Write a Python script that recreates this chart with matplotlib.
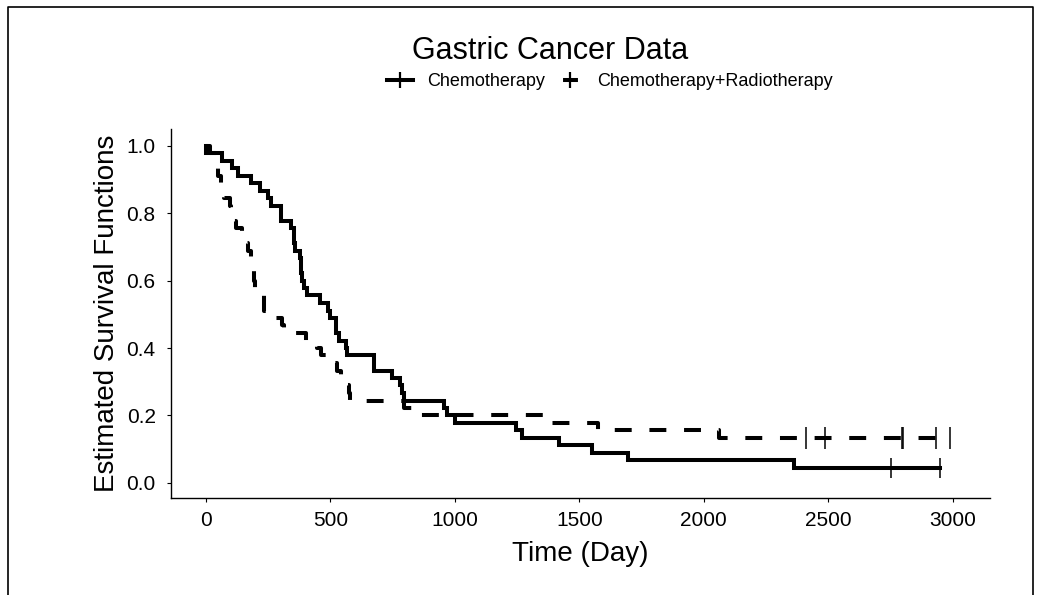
import matplotlib
matplotlib.use('Agg')
import matplotlib.pyplot as plt
from matplotlib.lines import Line2D

plt.rcParams['font.family'] = ['Liberation Sans', 'DejaVu Sans']

# Kaplan-Meier steps (gastric cancer data, n=45 per arm)
chemo_time = [1, 63, 105, 129, 182, 216, 250, 262, 301, 342, 354, 356, 358, 380,
              383, 388, 394, 408, 460, 489, 499, 523, 524, 535, 562, 569, 675,
              676, 748, 778, 786, 797, 955, 968, 1000, 1245, 1271, 1420, 1551,
              1694, 2363]
chemo_surv = [0.978, 0.956, 0.933, 0.911, 0.889, 0.867, 0.844, 0.822, 0.778,
              0.756, 0.733, 0.711, 0.689, 0.667, 0.622, 0.600, 0.578, 0.556,
              0.533, 0.511, 0.489, 0.467, 0.444, 0.422, 0.400, 0.378, 0.356,
              0.333, 0.311, 0.289, 0.267, 0.244, 0.222, 0.200, 0.178, 0.156,
              0.133, 0.111, 0.089, 0.067, 0.044]
chemo_cens = [2754, 2950]

radio_time = [17, 42, 44, 48, 60, 72, 74, 95, 103, 108, 122, 144, 167, 170, 183,
              185, 193, 195, 197, 208, 234, 235, 254, 307, 315, 401, 445, 464,
              484, 528, 542, 567, 577, 580, 795, 855, 1366, 1577, 2060]
radio_surv = [0.978, 0.956, 0.933, 0.911, 0.889, 0.867, 0.844, 0.822, 0.800,
              0.778, 0.756, 0.733, 0.711, 0.689, 0.667, 0.644, 0.622, 0.600,
              0.578, 0.556, 0.533, 0.511, 0.489, 0.467, 0.444, 0.422, 0.400,
              0.378, 0.356, 0.333, 0.311, 0.289, 0.267, 0.244, 0.222, 0.200,
              0.178, 0.156, 0.133]
radio_cens = [2412, 2486, 2796, 2802, 2934, 2988]

labels = ['Chemotherapy', 'Chemotherapy+Radiotherapy']
x_ticks = [0, 500, 1000, 1500, 2000, 2500, 3000]
y_ticks = [0.0, 0.2, 0.4, 0.6, 0.8, 1.0]

LW = 2.9
DASH = (0, (4.2, 4.4))

fig = plt.figure(figsize=(10.54, 5.95), dpi=100)
ax = fig.add_axes([171 / 1054, 1 - 498 / 595, 819 / 1054, 369 / 595])

# solid arm
xs = [0] + chemo_time + [max(chemo_cens)]
ys = [1.0] + chemo_surv + [chemo_surv[-1]]
ax.step(xs, ys, where='post', color='black', lw=LW, solid_joinstyle='miter')
ax.plot(chemo_cens, [chemo_surv[-1]] * len(chemo_cens), ls='none', marker='|',
        ms=15, mew=1.1, color='black')

# dashed arm
xs = [0] + radio_time + [max(radio_cens)]
ys = [1.0] + radio_surv + [radio_surv[-1]]
ax.step(xs, ys, where='post', color='black', lw=LW, linestyle=DASH)
ax.plot(radio_cens, [radio_surv[-1]] * len(radio_cens), ls='none', marker='|',
        ms=16, mew=1.1, color='black')

ax.set_xlim(-140, 3150)
ax.set_ylim(-0.045, 1.05)
ax.set_xticks(x_ticks)
ax.set_xticklabels([str(v) for v in x_ticks])
ax.set_yticks(y_ticks)
ax.set_yticklabels(['%.1f' % v for v in y_ticks])
ax.tick_params(labelsize=15, length=3, width=0.8, colors='black')
ax.tick_params(axis='x', pad=6)
ax.tick_params(axis='y', pad=8)
for s in ['top', 'right']:
    ax.spines[s].set_visible(False)
for s in ['left', 'bottom']:
    ax.spines[s].set_linewidth(1.0)

ax.set_xlabel('Time (Day)', fontsize=20)
ax.set_ylabel('Estimated Survival Functions', fontsize=20)
ax.xaxis.label.set_va('center')
ax.yaxis.label.set_va('center')
ax.xaxis.set_label_coords(0.5, -(554 - 498) / 369)
ax.yaxis.set_label_coords((107 - 171) / 819, 0.5)

fig.text(550 / 1054, 1 - 51 / 595, 'Gastric Cancer Data', ha='center',
         va='center', fontsize=22)

h1 = Line2D([], [], color='black', lw=LW, marker='|', ms=12, mew=1.6)
h2 = Line2D([], [], color='black', lw=LW, marker='|', ms=12, mew=1.6,
            linestyle=(12.2, (3.7, 10)))
fig.legend([h1, h2], labels, loc='center', ncol=2, frameon=False, fontsize=13,
           bbox_to_anchor=(610 / 1054, 1 - 82 / 595), handlelength=1.44,
           handletextpad=0.77, columnspacing=0.7, borderpad=0, borderaxespad=0)

# outer frame of the image
x0, x1, yt = 8 / 1054, 1033 / 1054, 1 - 7 / 595
fig.add_artist(Line2D([x0, x0, x1, x1], [0, yt, yt, 0], transform=fig.transFigure,
                      color='black', lw=1.2))

fig.savefig('out.png', dpi=100)
